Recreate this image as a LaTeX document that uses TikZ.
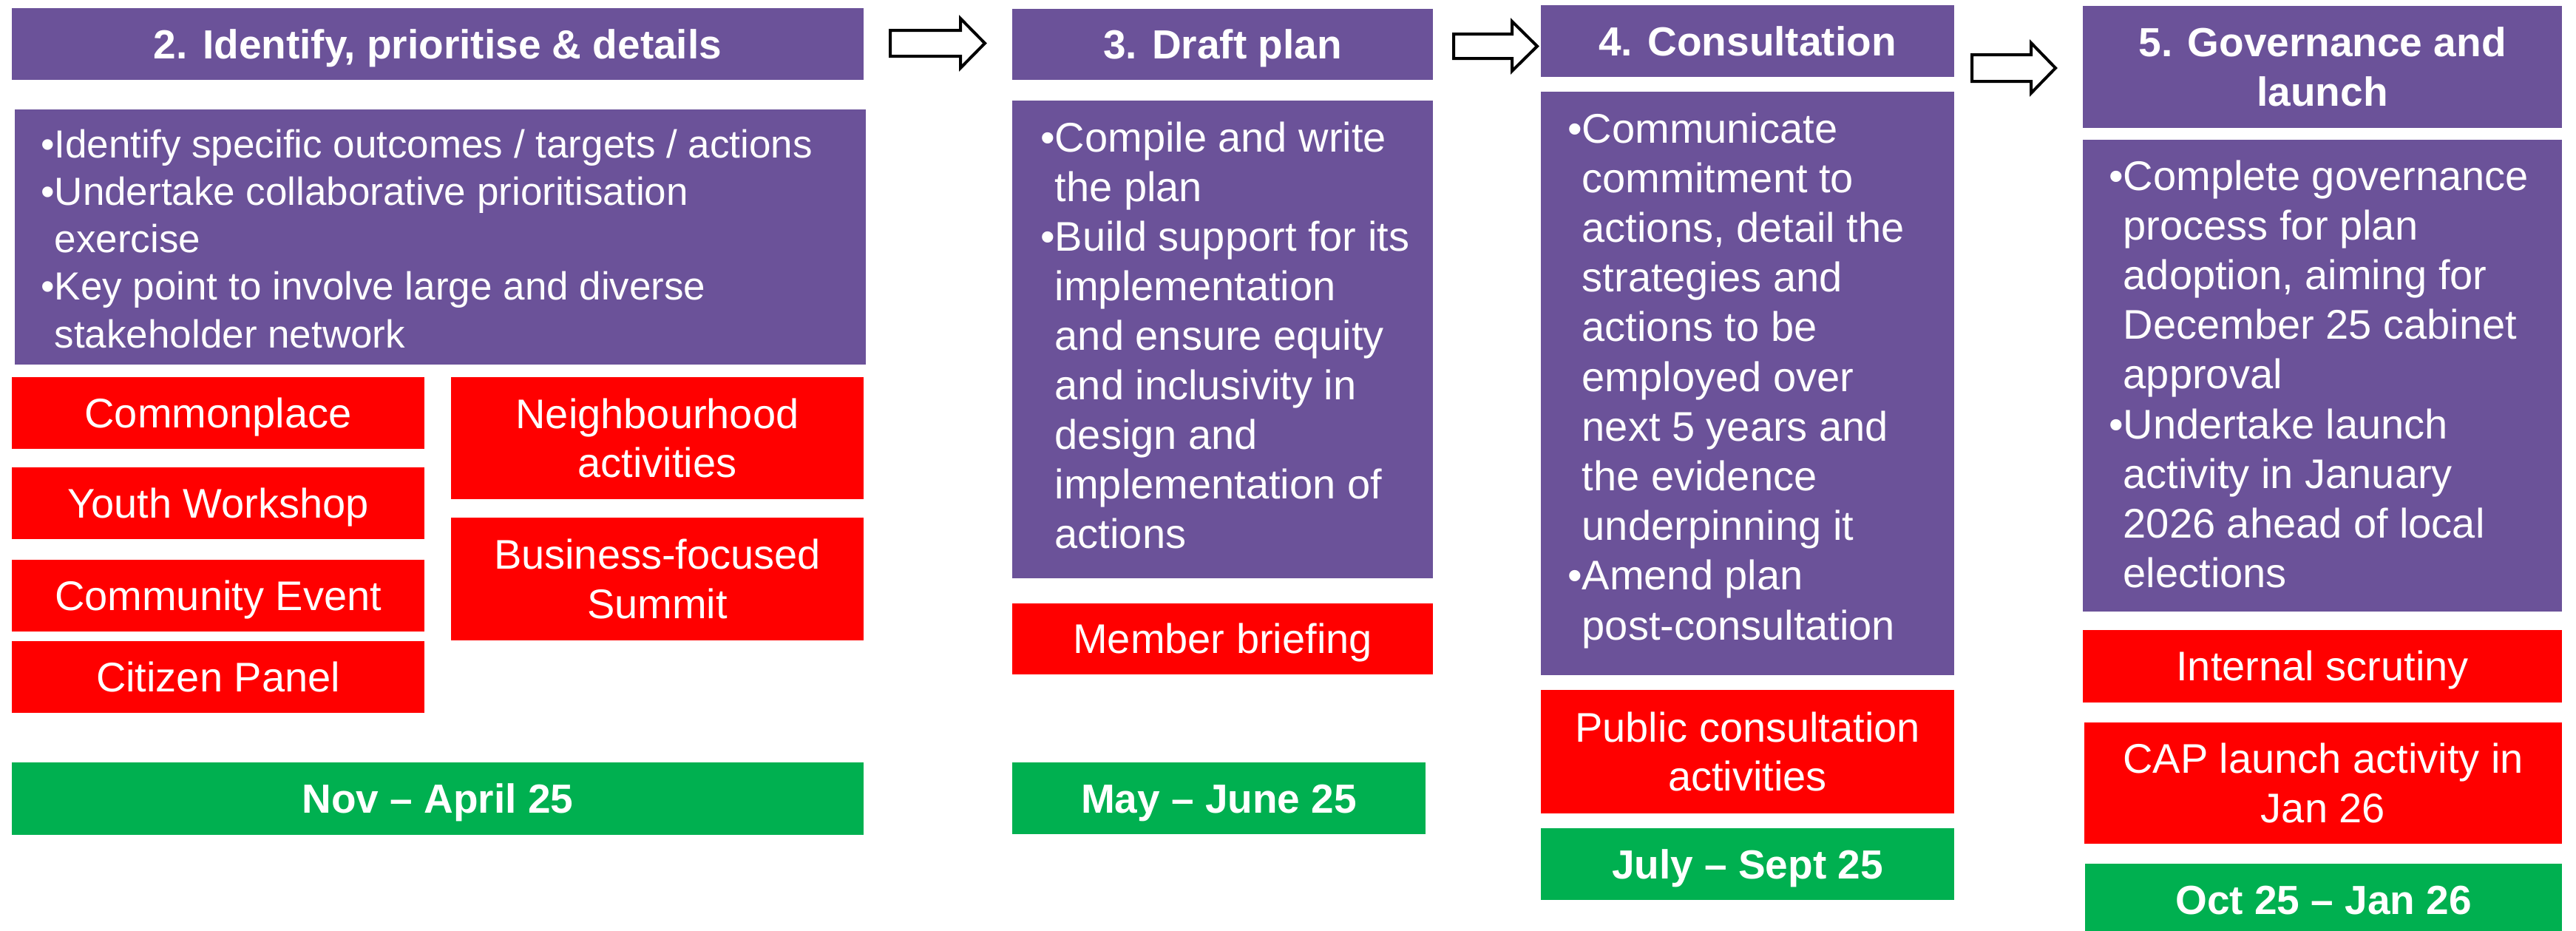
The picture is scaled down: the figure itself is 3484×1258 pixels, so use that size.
\documentclass[tikz,border=0pt]{standalone}
\usepackage{fontspec}
\setmainfont{Liberation Sans}
\definecolor{pp}{HTML}{6B5299}
\definecolor{rd}{HTML}{FF0000}
\definecolor{gr}{HTML}{00B050}
\newcommand\bitem[1]{\hangindent=0.35em\hangafter=1\noindent•#1\par}
\tikzset{
  box/.style={draw=none, inner sep=0pt, outer sep=0pt, anchor=north west, text=white},
  sz/.style 2 args={minimum width=#1, minimum height=#2},
  oneline/.style={text height=40pt, text depth=1pt},
  purplebox/.style={box, fill=pp},
  redbox/.style={box, fill=rd, align=center, font=\fontsize{56}{66.5}\selectfont},
  greenbox/.style={box, fill=gr, oneline, font=\bfseries\fontsize{55}{66}\selectfont},
  titlebox/.style={box, fill=pp, align=center, font=\bfseries\fontsize{55}{66.5}\selectfont},
  bodytext/.style={inner sep=0pt, anchor=base west, text=white},
  blockarrow/.style={draw=black, fill=white, line width=4pt, line join=miter},
}
\begin{document}
\begin{tikzpicture}[x=1pt, y=-1pt]
\useasboundingbox (0,0) rectangle (3484,1258);
% ---------- column 1
\node[titlebox, oneline, sz={1152}{97}] (t1) at (16,11) {2. Identify, prioritise \& details};
\node[purplebox, sz={1151}{345}] (b1) at (20,148) {};
\node[bodytext] (b1t) at (55,213) {\parbox[t]{1100pt}{\fontsize{53}{64.3}\selectfont
\bitem{Identify specific outcomes / targets / actions}
\bitem{Undertake collaborative prioritisation\\exercise}
\bitem{Key point to involve large and diverse\\stakeholder network}}};
\node[redbox, oneline, sz={558}{97}] (r1a) at (16,510) {Commonplace};
\node[redbox, oneline, sz={558}{97}] (r1b) at (16,632) {Youth Workshop};
\node[redbox, oneline, sz={558}{97}] (r1c) at (16,757) {Community Event};
\node[redbox, oneline, sz={558}{97}] (r1d) at (16,867) {Citizen Panel};
\node[redbox, sz={558}{165}] (r1e) at (610,510) {Neighbourhood\\activities};
\node[redbox, sz={558}{166}] (r1f) at (610,700) {Business-focused\\Summit};
\node[greenbox, sz={1152}{98}] (g1) at (16,1031) {Nov – April 25};
% ---------- column 2
\node[titlebox, oneline, sz={569}{96}] (t2) at (1369,12) {3. Draft plan};
\node[purplebox, sz={569}{646}] (b2) at (1369,136) {};
\node[bodytext] (b2t) at (1407,205) {\parbox[t]{560pt}{\fontsize{56}{67}\selectfont
\bitem{Compile and write\\the plan}
\bitem{Build support for its\\implementation\\and ensure equity\\and inclusivity in\\design and\\implementation of\\actions}}};
\node[redbox, oneline, sz={569}{96}] (r2) at (1369,816) {Member briefing};
\node[greenbox, sz={559}{97}] (g2) at (1369,1031) {May – June 25};
% ---------- column 3
\node[titlebox, oneline, sz={559}{97}] (t3) at (2084,7) {4. Consultation};
\node[purplebox, sz={559}{789}] (b3) at (2084,124) {};
\node[bodytext] (b3t) at (2120,193) {\parbox[t]{540pt}{\fontsize{56}{67.2}\selectfont
\bitem{Communicate\\commitment to\\actions, detail the\\strategies and\\actions to be\\employed over\\next 5 years and\\the evidence\\underpinning it}
\bitem{Amend plan\\post-consultation}}};
\node[redbox, sz={559}{167}] (r3) at (2084,933) {Public consultation\\activities};
\node[greenbox, sz={559}{97}] (g3) at (2084,1120) {July – Sept 25};
% ---------- column 4
\node[titlebox, sz={648}{165}] (t4) at (2817,8) {5. Governance and\\launch};
\node[purplebox, sz={648}{638}] (b4) at (2817,189) {};
\node[bodytext] (b4t) at (2852,257) {\parbox[t]{620pt}{\fontsize{56}{67.2}\selectfont
\bitem{Complete governance\\process for plan\\adoption, aiming for\\December 25 cabinet\\approval}
\bitem{Undertake launch\\activity in January\\2026 ahead of local\\elections}}};
\node[redbox, oneline, sz={648}{98}] (r4a) at (2817,852) {Internal scrutiny};
\node[redbox, sz={646}{164}] (r4b) at (2819,977) {CAP launch activity in\\Jan 26};
\node[greenbox, sz={645}{98}] (g4) at (2820,1168) {Oct 25 – Jan 26};
% ---------- block arrows
\draw[blockarrow] (1204,41) -- (1299,41) -- (1299,25) -- (1332,58.5) -- (1299,92) -- (1299,76) -- (1204,76) -- cycle;
\draw[blockarrow] (1966,46) -- (2045,46) -- (2045,29) -- (2079,62.5) -- (2045,96) -- (2045,79) -- (1966,79) -- cycle;
\draw[blockarrow] (2667,74) -- (2747,74) -- (2747,58) -- (2780,92) -- (2747,126) -- (2747,110) -- (2667,110) -- cycle;
\end{tikzpicture}
\end{document}
